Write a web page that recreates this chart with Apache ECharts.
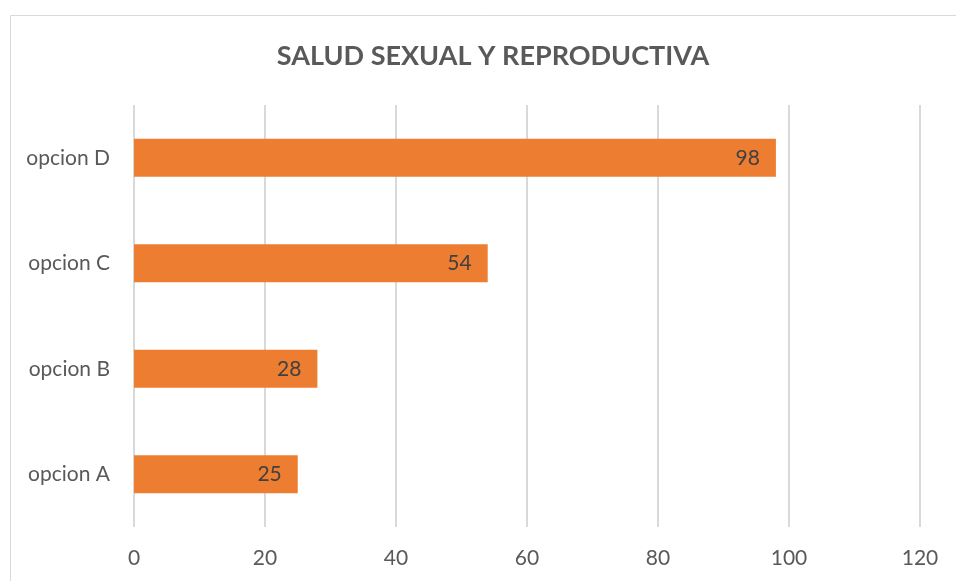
<!DOCTYPE html>
<html><head><meta charset="utf-8">
<script src="https://cdn.jsdelivr.net/npm/echarts@6/dist/echarts.min.js"></script>
<style>html,body{margin:0;padding:0;background:#fff}#c{width:956px;height:581px}</style>
</head><body><div id="c"></div>
<script>
const categories = ['opcion A', 'opcion B', 'opcion C', 'opcion D'];
const values = [25, 28, 54, 98];
const xTicks = [0, 20, 40, 60, 80, 100, 120];
const titleText = 'SALUD SEXUAL Y REPRODUCTIVA';

const FONT = 'Lato, "Open Sans", sans-serif';
const chart = echarts.init(document.getElementById('c'), null, {renderer: 'canvas'});
chart.setOption({
  animation: false,
  backgroundColor: '#fff',
  graphic: [{
    type: 'rect', left: 8, top: 13, z: -1,
    shape: {width: 1000, height: 700},
    style: {fill: 'none', stroke: '#d9d9d9', lineWidth: 1}
  }],
  title: {
    text: titleText, left: 488, top: 38, textAlign: 'center',
    textStyle: {fontFamily: FONT, fontWeight: 'bold', fontSize: 27, color: '#595959'}
  },
  grid: {left: 134, right: 36, top: 105, bottom: 54, containLabel: false},
  xAxis: {
    type: 'value', min: xTicks[0], max: xTicks[xTicks.length - 1], interval: 20,
    axisLine: {show: false}, axisTick: {show: false},
    splitLine: {lineStyle: {color: '#d9d9d9', width: 2}},
    axisLabel: {fontFamily: FONT, fontSize: 21, color: '#595959', margin: 21}
  },
  yAxis: {
    type: 'category', data: categories,
    axisLine: {show: false}, axisTick: {show: false},
    axisLabel: {fontFamily: FONT, fontSize: 21, color: '#595959', margin: 24}
  },
  series: [{
    type: 'bar', data: values, barWidth: '36%',
    itemStyle: {color: '#ED7D31'},
    label: {show: true, position: 'insideRight', distance: 16, fontFamily: FONT, fontSize: 21, color: '#404040'}
  }]
});
</script></body></html>
